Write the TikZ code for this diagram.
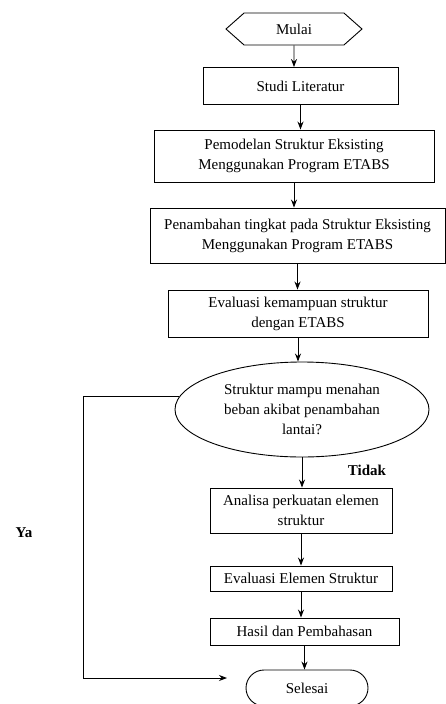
\documentclass[tikz,border=0pt]{standalone}
\usepackage{fontspec}
\setmainfont{Liberation Serif}
\usetikzlibrary{shapes.geometric, shapes.misc, shapes.symbols, arrows.meta}
\tikzset{
  txt/.style = {font = \fontsize{15}{20}\selectfont},
  box/.style = {txt, draw, line width = 0.9, inner sep = 0, align = center},
  hexa/.style = {box, signal, signal to = east and west, signal pointer angle = 83},
  ends/.style = {box, rounded rectangle},
  tanya/.style = {box, ellipse},
  lbl/.style = {font = \fontsize{15}{20}\selectfont\bfseries},
  arr/.style = {-{Stealth[length = 8pt, width = 6pt]}, line width = 0.9}
}

\begin{document}
\begin{tikzpicture}[x = 1pt, y = -1pt]
    \clip (0, 0) rectangle (446, 704);
    \begin{scope}
      \node [hexa, minimum width = 136, minimum height = 32] (mulai) at (294, 29) {Mulai};
      \node [box, minimum width = 195, minimum height = 37] (studi) at (300.5, 86) {Studi Literatur};
      \node [box, minimum width = 280, minimum height = 52] (model) at (294, 156) {Pemodelan Struktur Eksisting\\Menggunakan Program ETABS};
      \node [box, minimum width = 295, minimum height = 55] (tambah) at (297.5, 235.5) {Penambahan tingkat pada Struktur Eksisting\\Menggunakan Program ETABS};
      \node [box, minimum width = 260, minimum height = 47] (eval) at (298, 313.5) {Evaluasi kemampuan struktur\\dengan ETABS};
      \node [tanya, minimum width = 254, minimum height = 95] (cek) at (302, 409.5) {Struktur mampu menahan\\beban akibat penambahan\\lantai?};
      \node [box, minimum width = 182, minimum height = 45] (analisa) at (301, 510.5) {Analisa perkuatan elemen\\struktur};
      \node [box, minimum width = 182, minimum height = 25] (elemen) at (301, 578.5) {Evaluasi Elemen Struktur};
      \node [box, minimum width = 189, minimum height = 27] (hasil) at (304.5, 631.5) {Hasil dan Pembahasan};
      \node [ends, minimum width = 122, minimum height = 36] (selesai) at (307, 688) {Selesai};

      \node [lbl] (tidak) at (367, 470) {Tidak};
      \node [lbl] (ya) at (24, 533) {Ya};

      \coordinate (belok) at (83, 678);
      \coordinate (ujung) at (227, 678);

      \draw (mulai) edge [arr] (mulai |- studi.north);
      \draw (studi) edge [arr] (studi |- model.north);
      \draw (model) edge [arr] (model |- tambah.north);
      \draw (tambah) edge [arr] (tambah |- eval.north);
      \draw (eval) edge [arr] (eval |- cek.north);
      \draw (cek) edge [arr] (cek |- analisa.north);
      \draw (analisa) edge [arr] (analisa |- elemen.north);
      \draw (elemen) edge [arr] (elemen |- hasil.north);
      \draw (hasil) edge [arr] (hasil |- selesai.north);
      \draw [arr] (cek.174) -| (belok) -- (ujung);
    \end{scope}
\end{tikzpicture}
\end{document}
